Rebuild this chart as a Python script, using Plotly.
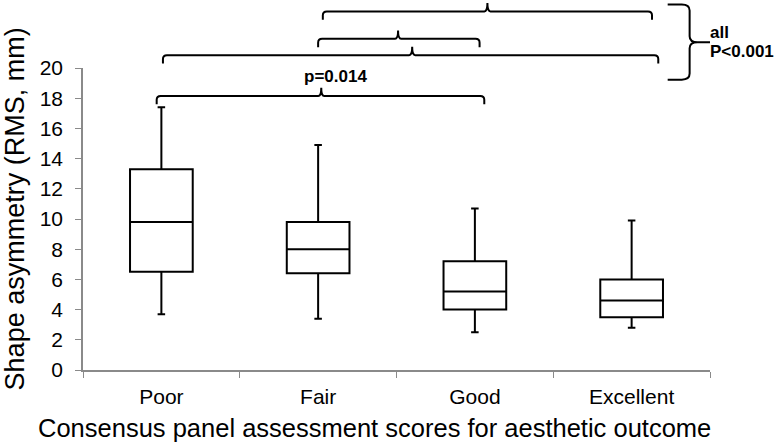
import plotly.graph_objects as go

# ---- data ----
categories = ["Poor", "Fair", "Good", "Excellent"]
lower_whisker = [3.7, 3.4, 2.5, 2.8]
q1_values = [6.5, 6.4, 4.0, 3.5]
median_values = [9.8, 8.0, 5.2, 4.6]
q3_values = [13.3, 9.8, 7.2, 6.0]
upper_whisker = [17.4, 14.9, 10.7, 9.9]
y_ticks = [0, 2, 4, 6, 8, 10, 12, 14, 16, 18, 20]

# comparison brackets: (left index, right index, centre index, level in y units)
brackets = [
    (-0.03, 2.06, 1.02, 18.15),   # Poor vs Good, p=0.014
    (0.01, 3.17, 1.60, 20.85),    # Poor vs Excellent
    (1.00, 2.03, 1.51, 21.93),    # Fair vs Good
    (1.03, 3.13, 2.08, 23.75),    # Fair vs Excellent
]

X_RANGE = (-0.5, 3.5)
Y_RANGE = (0, 20)
PLOT_W = 774 - 83 - 64
PLOT_H = 445 - 68 - 75


def X(i):
    return (i - X_RANGE[0]) / (X_RANGE[1] - X_RANGE[0])


def Y(v):
    return (v - Y_RANGE[0]) / (Y_RANGE[1] - Y_RANGE[0])


def bracket_path(i0, i1, ic, level, drop=0.55, tick=0.55):
    rx = 4.0 / PLOT_W * (X_RANGE[1] - X_RANGE[0])  # corner radius in index units
    w = 3.0 / PLOT_W * (X_RANGE[1] - X_RANGE[0])
    r_v = 0.25
    p = []
    p.append(f"M {X(i0):.5f},{Y(level - drop):.5f}")
    p.append(f"L {X(i0):.5f},{Y(level - r_v):.5f}")
    p.append(f"Q {X(i0):.5f},{Y(level):.5f} {X(i0 + rx):.5f},{Y(level):.5f}")
    p.append(f"L {X(ic - w):.5f},{Y(level):.5f}")
    p.append(f"Q {X(ic):.5f},{Y(level):.5f} {X(ic):.5f},{Y(level + tick):.5f}")
    p.append(f"Q {X(ic):.5f},{Y(level):.5f} {X(ic + w):.5f},{Y(level):.5f}")
    p.append(f"L {X(i1 - rx):.5f},{Y(level):.5f}")
    p.append(f"Q {X(i1):.5f},{Y(level):.5f} {X(i1):.5f},{Y(level - r_v):.5f}")
    p.append(f"L {X(i1):.5f},{Y(level - drop):.5f}")
    return " ".join(p)


def brace_path(x_end, x_bar, x_tip, y_top, y_mid, y_bot):
    r_x = 0.05
    r_v = 0.4
    p = [
        f"M {X(x_end):.5f},{Y(y_top):.5f}",
        f"L {X(x_bar - r_x):.5f},{Y(y_top):.5f}",
        f"Q {X(x_bar):.5f},{Y(y_top):.5f} {X(x_bar):.5f},{Y(y_top - r_v):.5f}",
        f"L {X(x_bar):.5f},{Y(y_mid + r_v):.5f}",
        f"Q {X(x_bar):.5f},{Y(y_mid):.5f} {X(x_bar + r_x):.5f},{Y(y_mid):.5f}",
        f"L {X(x_tip):.5f},{Y(y_mid):.5f}",
        f"M {X(x_bar + r_x):.5f},{Y(y_mid):.5f}",
        f"Q {X(x_bar):.5f},{Y(y_mid):.5f} {X(x_bar):.5f},{Y(y_mid - r_v):.5f}",
        f"L {X(x_bar):.5f},{Y(y_bot + r_v):.5f}",
        f"Q {X(x_bar):.5f},{Y(y_bot):.5f} {X(x_bar - r_x):.5f},{Y(y_bot):.5f}",
        f"L {X(x_end):.5f},{Y(y_bot):.5f}",
    ]
    return " ".join(p)


fig = go.Figure()
fig.add_trace(go.Box(
    x=categories,
    q1=q1_values,
    median=median_values,
    q3=q3_values,
    lowerfence=lower_whisker,
    upperfence=upper_whisker,
    width=0.4,
    whiskerwidth=0.12,
    line=dict(color="black", width=2),
    fillcolor="white",
    boxpoints=False,
    showlegend=False,
))

shapes = []
for (i0, i1, ic, lvl) in brackets:
    shapes.append(dict(type="path", xref="paper", yref="paper",
                       path=bracket_path(i0, i1, ic, lvl),
                       line=dict(color="black", width=2)))
shapes.append(dict(type="path", xref="paper", yref="paper",
                   path=brace_path(3.23, 3.37, 3.50, 24.2, 21.7, 19.23),
                   line=dict(color="black", width=2)))

annotations = [
    dict(text="<b>p=0.014</b>", xref="paper", yref="paper", x=X(1.11), y=Y(19.45),
         showarrow=False, xanchor="center", yanchor="middle",
         font=dict(family="Liberation Sans", size=17, color="black")),
    dict(text="<b>all</b>", xref="paper", yref="paper", x=X(3.49), y=Y(22.35),
         showarrow=False, xanchor="left", yanchor="middle",
         font=dict(family="Liberation Sans", size=17, color="black")),
    dict(text="<b>P<0.001</b>", xref="paper", yref="paper", x=X(3.49), y=Y(21.1),
         showarrow=False, xanchor="left", yanchor="middle",
         font=dict(family="Liberation Sans", size=17, color="black")),
    # axis titles
    dict(text="Consensus panel assessment scores for aesthetic outcome",
         xref="paper", yref="paper", x=X(1.357), y=Y(-3.85),
         showarrow=False, xanchor="center", yanchor="middle",
         font=dict(family="Liberation Sans", size=25.5, color="black")),
    dict(text="Shape asymmetry (RMS, mm)",
         xref="paper", yref="paper", x=X(-0.934), y=Y(10.7), textangle=-90,
         showarrow=False, xanchor="center", yanchor="middle",
         font=dict(family="Liberation Sans", size=27, color="black")),
]

fig.update_layout(
    width=774, height=445,
    margin=dict(l=83, r=64, t=68, b=75),
    paper_bgcolor="white", plot_bgcolor="white",
    font=dict(family="Liberation Sans", color="black"),
    shapes=shapes,
    annotations=annotations,
    xaxis=dict(
        type="category", range=list(X_RANGE),
        showline=True, linecolor="#8a8a8a", linewidth=1.5,
        ticks="outside", tickson="boundaries", ticklen=6, tickcolor="#8a8a8a",
        showgrid=False, zeroline=False,
        tickfont=dict(size=21, color="black"),
        ticklabelstandoff=7,
        automargin=False,
    ),
    yaxis=dict(
        range=list(Y_RANGE), tickvals=y_ticks,
        showline=True, linecolor="#8a8a8a", linewidth=1.5,
        ticks="outside", ticklen=6, tickcolor="#8a8a8a",
        showgrid=False, zeroline=False,
        tickfont=dict(size=21, color="black"),
        ticklabelstandoff=8,
        automargin=False,
    ),
)

fig.write_html("out.html", config={"displayModeBar": False},
               post_script="document.body.style.margin='0px';")
